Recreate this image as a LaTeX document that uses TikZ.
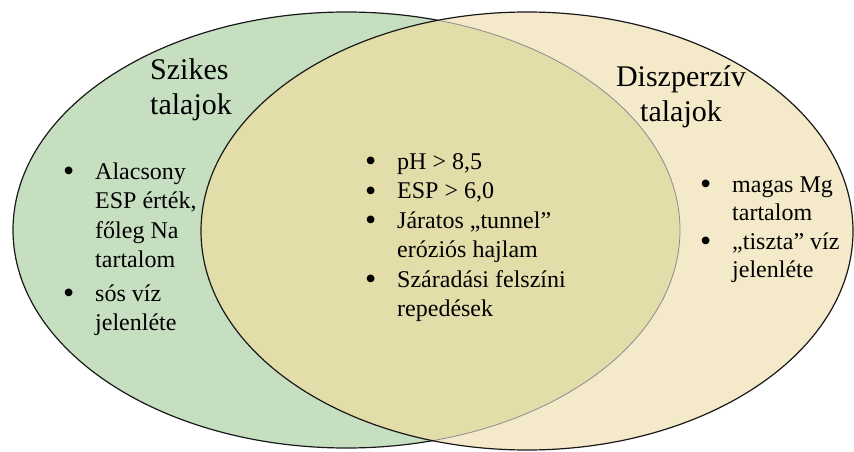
\documentclass[tikz,border=0pt]{standalone}
\usepackage{fontspec}
\setmainfont{Liberation Serif}
\usepackage{tikz}
\definecolor{vnsalt}{HTML}{C6DFC0}
\definecolor{vndisp}{HTML}{F4EAC9}
\definecolor{vnboth}{HTML}{E3DDAA}
\newcommand\vnbul{\raisebox{-2.5pt}{\fontsize{32}{32}\selectfont\textbullet}}

\begin{document}
\begin{tikzpicture}[x=1pt,y=-1pt,
  head/.style={inner sep=0pt,font=\fontsize{30}{35}\selectfont,anchor=base},
  items/.style={inner sep=0pt,anchor=base west},
  rim/.style={line width=1.2pt,draw=black!90}]
  \useasboundingbox (0,0) rectangle (854,452);
  % the two sets
  \coordinate (salt) at (346.5,230);
  \coordinate (disp) at (527,231);
  \fill[vnsalt] (salt) ellipse [x radius=333.5pt,y radius=218pt];
  \draw[rim] (salt) ellipse [x radius=333.5pt,y radius=218pt];
  \fill[vndisp] (disp) ellipse [x radius=326pt,y radius=219pt];
  \begin{scope}
    \clip (salt) ellipse [x radius=333.5pt,y radius=218pt];
    \fill[vnboth] (disp) ellipse [x radius=326pt,y radius=219pt];
  \end{scope}
  \begin{scope}
    \clip (disp) ellipse [x radius=326pt,y radius=219pt];
    \draw[line width=0.8pt,black!45] (salt) ellipse [x radius=333.5pt,y radius=218pt];
  \end{scope}
  \draw[rim] (disp) ellipse [x radius=326pt,y radius=219pt];

  \node[head,anchor=base west] (salthead) at (150,80)
    {\begin{tabular}[t]{@{}l@{}}Szikes\\talajok\end{tabular}};
  \node[head] (disphead) at (681,87)
    {\begin{tabular}[t]{@{}c@{}}Diszperzív\\talajok\end{tabular}};

  \node[items] (saltlist) at (63,179) {\fontsize{24}{29.5}\selectfont
    \begin{tabular}[t]{@{}p{32pt}@{}l@{}}
      \vnbul & Alacsony\\
             & ESP érték,\\
             & főleg Na\\
             & tartalom\\[4pt]
      \vnbul & sós víz\\
             & jelenléte
    \end{tabular}};
  \node[items] (bothlist) at (365,169) {\fontsize{24}{29.5}\selectfont
    \begin{tabular}[t]{@{}p{32pt}@{}l@{}}
      \vnbul & pH > 8,5\\
      \vnbul & ESP > 6,0\\
      \vnbul & Járatos „tunnel”\\
             & eróziós hajlam\\
      \vnbul & Száradási felszíni\\
             & repedések
    \end{tabular}};
  \node[items] (displist) at (700,192) {\fontsize{24}{28.5}\selectfont
    \begin{tabular}[t]{@{}p{32pt}@{}l@{}}
      \vnbul & magas Mg\\
             & tartalom\\
      \vnbul & „tiszta” víz\\
             & jelenléte
    \end{tabular}};
\end{tikzpicture}
\end{document}
